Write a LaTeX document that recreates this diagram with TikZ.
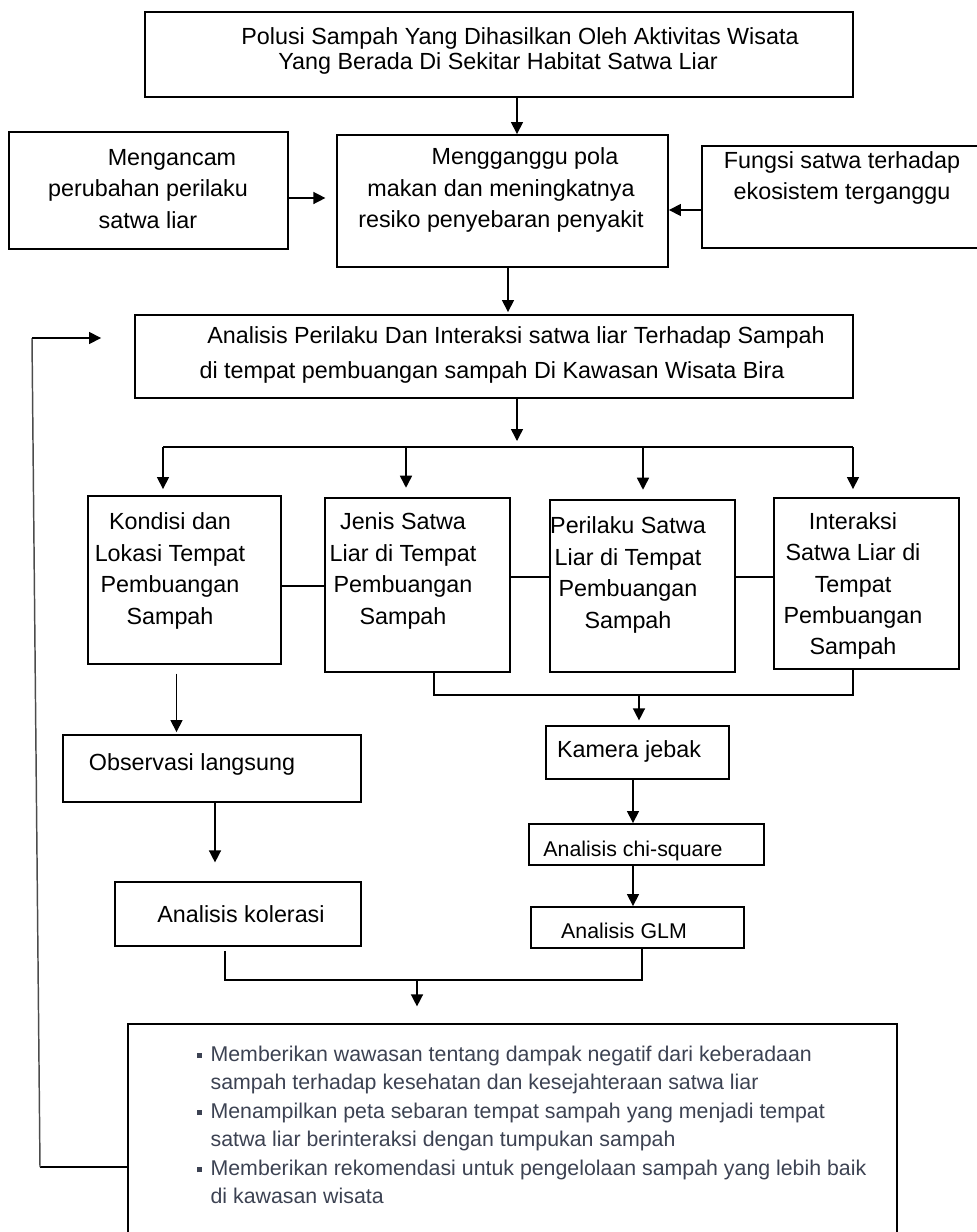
\documentclass[tikz,border=0pt]{standalone}
\usepackage{fontspec}
\setmainfont{Liberation Sans}
\usepackage{tikz}
\usetikzlibrary{arrows.meta}
\definecolor{poinbiru}{RGB}{60,66,82}
\newcommand{\poin}{\makebox[10pt][l]{\rule[0.28ex]{3.6pt}{3.6pt}}}

\begin{document}
\begin{tikzpicture}[
        x=0.75pt, y=-0.75pt,
        every node/.style={inner sep=0pt},
        box/.style={draw, line width=1.4pt, rectangle},
        txt/.style={align=center, font=\fontsize{17.5}{23.5}\selectfont},
        arr/.style={draw, line width=1.1pt, -{Triangle[length=9pt,width=9pt]}},
        ln/.style={draw, line width=1.1pt}
    ]
    \useasboundingbox (0,0) rectangle (977,1232);

    % Bagian atas
    \node[box, minimum width=531pt, minimum height=63.75pt] (polusi) at (499,54.5) {};
    \node[txt, font=\fontsize{17.5}{19}\selectfont] (polusitxt) at (498,51)
        {\hspace*{33pt}Polusi Sampah Yang Dihasilkan Oleh Aktivitas Wisata\\Yang Berada Di Sekitar Habitat Satwa Liar};

    \node[box, minimum width=248.25pt, minimum height=99pt] (ganggu) at (502.5,201) {};
    \node[txt] (ganggutxt) at (501,190)
        {\hspace*{36pt}Mengganggu pola\\makan dan meningkatnya\\resiko penyebaran penyakit};

    \node[box, minimum width=209.25pt, minimum height=87.75pt] (ancam) at (148.5,190.5) {};
    \node[txt] (ancamtxt) at (148,189)
        {\hspace*{36pt}Mengancam\\perubahan perilaku\\satwa liar};

    \node[box, minimum width=223.5pt, minimum height=76.5pt] (fungsi) at (851,197) {};
    \node[txt] (fungsitxt) at (842,178)
        {Fungsi satwa terhadap\\ekosistem terganggu};

    \node[box, minimum width=538.5pt, minimum height=62.25pt] (analisis) at (494,356.5) {};
    \node[txt, font=\fontsize{17.5}{26}\selectfont] (analisistxt) at (492,355)
        {\hspace*{36pt}Analisis Perilaku Dan Interaksi satwa liar Terhadap Sampah\\di tempat pembuangan sampah Di Kawasan Wisata Bira};

    % Empat variabel
    \node[box, minimum width=144.75pt, minimum height=126pt] (kondisi) at (184.5,580) {};
    \node[txt, font=\fontsize{17.5}{23.75}\selectfont] (kondisitxt) at (170,571)
        {Kondisi dan\\Lokasi Tempat\\Pembuangan\\Sampah};

    \node[box, minimum width=138.75pt, minimum height=130.5pt] (jenis) at (417.5,585) {};
    \node[txt, font=\fontsize{17.5}{23.75}\selectfont] (jenistxt) at (403,571)
        {Jenis Satwa\\Liar di Tempat\\Pembuangan\\Sampah};

    \node[box, minimum width=138.75pt, minimum height=129pt] (perilaku) at (642.5,586) {};
    \node[txt, font=\fontsize{17.5}{23.75}\selectfont] (perilakutxt) at (628,575)
        {Perilaku Satwa\\Liar di Tempat\\Pembuangan\\Sampah};

    \node[box, minimum width=138.75pt, minimum height=128.25pt] (interaksi) at (866.5,583.5) {};
    \node[txt, font=\fontsize{17.5}{23.6}\selectfont] (interaksitxt) at (853,586)
        {Interaksi\\Satwa Liar di\\Tempat\\Pembuangan\\Sampah};

    % Metode
    \node[box, minimum width=223.5pt, minimum height=50.25pt] (observasi) at (212,768.5) {};
    \node[txt] (observasitxt) at (192,764) {Observasi langsung};

    \node[box, minimum width=184.5pt, minimum height=48pt] (kolerasi) at (238,914) {};
    \node[txt] (kolerasitxt) at (241,914) {Analisis kolerasi};

    \node[box, minimum width=137.25pt, minimum height=39.75pt] (kamera) at (637.5,752.5) {};
    \node[txt] (kameratxt) at (629,751) {Kamera jebak};

    \node[box, minimum width=176.25pt, minimum height=30.75pt] (chisquare) at (646.5,844.5) {};
    \node[txt, font=\fontsize{16}{20}\selectfont] (chisquaretxt) at (633,851) {Analisis chi-square};

    \node[box, minimum width=159.75pt, minimum height=30.75pt] (glm) at (637.5,927.5) {};
    \node[txt, font=\fontsize{16}{20}\selectfont] (glmtxt) at (624,931) {Analisis GLM};

    % Hasil
    \node[box, minimum width=576.75pt, minimum height=169.5pt] (hasil) at (512.5,1137) {};
    \node[anchor=west, align=left, text=poinbiru, font=\fontsize{16}{21.4}\selectfont] (hasiltxt) at (197,1125)
        {\poin Memberikan wawasan tentang dampak negatif dari keberadaan\\
         \hspace*{10pt}sampah terhadap kesehatan dan kesejahteraan satwa liar\\
         \poin Menampilkan peta sebaran tempat sampah yang menjadi tempat\\
         \hspace*{10pt}satwa liar berinteraksi dengan tumpukan sampah\\
         \poin Memberikan rekomendasi untuk pengelolaan sampah yang lebih baik\\
         \hspace*{10pt}di kawasan wisata};

    % Panah bagian atas
    \draw[arr] (517,0 |- polusi.south) -- (517,0 |- ganggu.north);
    \draw[arr, shorten >=8pt] (ancam.east |- 0,198) -- (ganggu.west |- 0,198);
    \draw[arr] (fungsi.west |- 0,210) -- (ganggu.east |- 0,210);
    \draw[arr, shorten >=1.5pt] (508,0 |- ganggu.south) -- (508,0 |- analisis.north);

    % Percabangan ke empat variabel
    \coordinate (cabangkiri) at (163,447);
    \coordinate (cabangkanan) at (853,447);
    \draw[arr, shorten >=4.5pt] (517,0 |- analisis.south) -- (517,0 |- cabangkiri);
    \draw[ln] (cabangkiri) -- (cabangkanan);
    \draw[arr, shorten >=4.5pt] (cabangkiri) -- (cabangkiri |- kondisi.north);
    \draw[arr, shorten >=7pt] (406,0 |- cabangkiri) -- (406,0 |- jenis.north);
    \draw[arr, shorten >=7pt] (643,0 |- cabangkiri) -- (643,0 |- perilaku.north);
    \draw[arr, shorten >=6pt] (cabangkanan) -- (cabangkanan |- interaksi.north);

    % Garis antar variabel
    \draw[ln] (kondisi.east |- 0,586) -- (jenis.west |- 0,586);
    \draw[ln] (jenis.east |- 0,577) -- (perilaku.west |- 0,577);
    \draw[ln] (perilaku.east |- 0,577) -- (interaksi.west |- 0,577);

    % Jalur kamera jebak
    \draw[ln] (434,0 |- jenis.south) -- (434,695) -- (853,695) -- (853,0 |- interaksi.south);
    \draw[arr, shorten >=3.5pt] (639,695) -- (639,0 |- kamera.north);
    \draw[arr] (633,0 |- kamera.south) -- (633,0 |- chisquare.north);
    \draw[arr] (633,0 |- chisquare.south) -- (633,0 |- glm.north);

    % Jalur observasi langsung
    \draw[arr, shorten <=6.5pt, shorten >=1.5pt] (176.5,0 |- kondisi.south) -- (176.5,0 |- observasi.north);
    \draw[arr, shorten >=14pt] (215,0 |- observasi.south) -- (215,0 |- kolerasi.north);

    % Menuju hasil
    \draw[ln, shorten <=3pt] (225,0 |- kolerasi.south) -- (225,980) -- (642,980) -- (642,0 |- glm.south);
    \draw[arr, shorten >=12.5pt] (417,980) -- (417,0 |- hasil.north);

    % Umpan balik
    \draw[ln] (hasil.west |- 0,1167) -- (40,1167);
    \draw[ln, gray!60!black] (40,1167) -- (32,338);
    \draw[arr, shorten >=24.75pt] (32,338) -- (analisis.west |- 0,338);

\end{tikzpicture}
\end{document}
